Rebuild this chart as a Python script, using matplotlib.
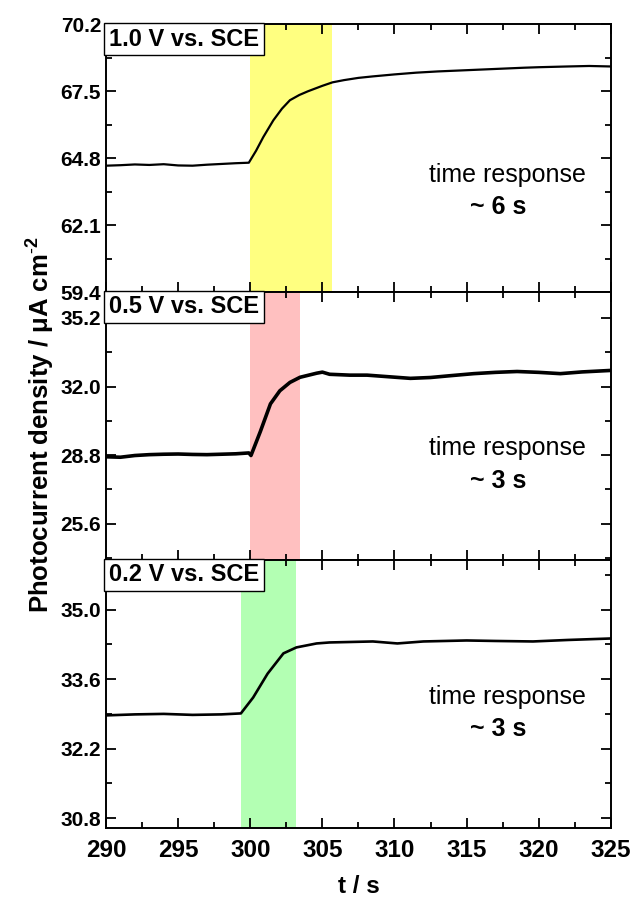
import numpy as np
import matplotlib
matplotlib.use("Agg")
import matplotlib.pyplot as plt
from matplotlib.ticker import MultipleLocator

plt.rcParams['font.family'] = ['Liberation Sans', 'DejaVu Sans']
plt.rcParams['mathtext.fontset'] = 'custom'
plt.rcParams['mathtext.rm'] = 'Liberation Sans'
plt.rcParams['mathtext.bf'] = 'Liberation Sans:bold'

##### Data

# 1.0 V vs. SCE
t_top = [290, 291, 292, 293, 294, 295, 296, 297, 298, 299, 299.9, 300.4, 300.9, 301.6, 302.2,
         302.75, 303.4, 304, 305, 305.7, 306.5, 307.5, 308.5, 310, 311.5, 313, 315, 317, 319,
         320, 322, 323.5, 325]
j_top = [64.50, 64.52, 64.55, 64.53, 64.56, 64.51, 64.50, 64.54, 64.57, 64.60, 64.62, 65.10,
         65.65, 66.33, 66.80, 67.14, 67.35, 67.50, 67.72, 67.86, 67.95, 68.04, 68.10, 68.18,
         68.25, 68.30, 68.35, 68.40, 68.45, 68.47, 68.50, 68.52, 68.50]

# 0.5 V vs. SCE
t_mid = [290, 291, 292, 293, 294, 295, 296, 297, 298, 299, 299.9, 300.05, 300.7, 301.4, 302.05,
         302.75, 303.45, 304.6, 305.0, 305.5, 306.9, 308.1, 309.5, 311.1, 312.5, 313.8, 315.5,
         317, 318.5, 320, 321.5, 323, 325]
j_mid = [28.72, 28.70, 28.78, 28.82, 28.84, 28.85, 28.83, 28.82, 28.84, 28.86, 28.90, 28.78,
         29.90, 31.19, 31.80, 32.19, 32.43, 32.62, 32.67, 32.57, 32.53, 32.53, 32.46, 32.38,
         32.42, 32.50, 32.60, 32.66, 32.70, 32.66, 32.60, 32.68, 32.75]

# 0.2 V vs. SCE
t_bot = [290, 292, 294, 296, 298, 299.35, 300.2, 301.2, 302.3, 303.2, 304.6, 305.5, 307, 308.5,
         310.2, 312, 315, 317, 319.6, 322, 325]
j_bot = [32.87, 32.89, 32.90, 32.88, 32.89, 32.91, 33.23, 33.71, 34.12, 34.24, 34.32, 34.34,
         34.35, 34.36, 34.32, 34.36, 34.38, 34.37, 34.36, 34.39, 34.42]

labels = ['1.0 V vs. SCE', '0.5 V vs. SCE', '0.2 V vs. SCE']
responses = ['~ 6 s', '~ 3 s', '~ 3 s']
spans = [(300.0, 305.7), (300.0, 303.45), (299.35, 303.2)]
span_colors = ['#FFFF80', '#FFC0C0', '#B3FFB3']
ylims = [(59.4, 70.2), (23.9, 36.4), (30.6, 36.0)]
yticks = [[59.4, 62.1, 64.8, 67.5, 70.2], [25.6, 28.8, 32.0, 35.2], [30.8, 32.2, 33.6, 35.0]]
xticks = [290, 295, 300, 305, 310, 315, 320, 325]


##### Functions for drawing one panel:

def draw_panel(ax, t, j, i, lw, text_y):
    '''
    Draws one photocurrent transient with its shaded response window and labels
    '''
    ax.axvspan(spans[i][0], spans[i][1], color=span_colors[i], lw=0, zorder=0)
    ax.plot(t, j, color='black', lw=lw, zorder=2)
    ax.set_xlim(290, 325)
    ax.set_ylim(*ylims[i])
    ax.set_yticks(yticks[i])
    step = yticks[i][1] - yticks[i][0]
    ax.yaxis.set_minor_locator(MultipleLocator(step / 2))
    ax.set_xticks(xticks)
    ax.xaxis.set_minor_locator(MultipleLocator(2.5))
    ax.tick_params(which='both', direction='in', top=True, right=True, width=1.3)
    ax.tick_params(which='major', length=7, labelsize=15)
    ax.tick_params(which='minor', length=4)
    ax.tick_params(axis='x', labelsize=17.5, pad=8)
    for lab in ax.get_yticklabels() + ax.get_xticklabels():
        lab.set_fontweight('bold')
    for sp in ax.spines.values():
        sp.set_linewidth(1.4)
    ax.text(0.006, 0.988, labels[i], transform=ax.transAxes, ha='left', va='top',
            fontsize=17, fontweight='bold', zorder=5,
            bbox=dict(boxstyle='square,pad=0.2', fc='white', ec='black', lw=1))
    trans = ax.get_xaxis_transform()
    ax.text(317.8, text_y, 'time response', transform=trans, ha='center',
            va='center', fontsize=18)
    ax.text(317.2, text_y - 0.12, responses[i], transform=trans, ha='center',
            va='center', fontsize=18, fontweight='bold')


fig, axes = plt.subplots(3, 1, figsize=(6.33, 9), dpi=100, sharex=True)
fig.subplots_adjust(left=0.1675, right=0.965, top=0.973, bottom=0.08, hspace=0)

draw_panel(axes[0], t_top, j_top, 0, 1.6, 0.437)
draw_panel(axes[1], t_mid, j_mid, 1, 2.6, 0.417)
draw_panel(axes[2], t_bot, j_bot, 2, 1.9, 0.489)

fig.text(0.062, 0.528, 'Photocurrent density / $\\mathregular{\\mu}$A cm$^{\\mathbf{\\text{-}2}}$',
         rotation=90, ha='center', va='center', fontsize=18.5, fontweight='bold')
axes[2].set_xlabel('t / s', fontsize=17.5, fontweight='bold', labelpad=9)

fig.savefig('out.png', dpi=100)
